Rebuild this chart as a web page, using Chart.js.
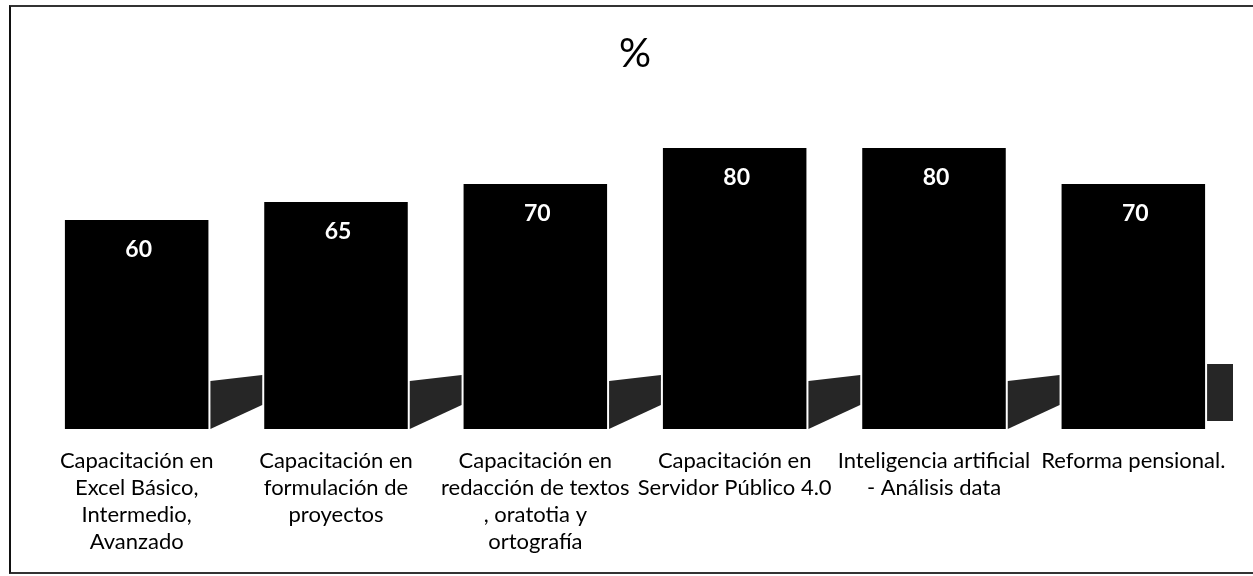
<!DOCTYPE html>
<html>
<head>
<meta charset="utf-8">
<script src="https://cdn.jsdelivr.net/npm/chart.js@4"></script>
<style>
  html, body { margin: 0; padding: 0; background: #fff; }
  #wrap { position: relative; width: 1253px; height: 576px; }
  #frame {
    position: absolute; left: 9px; top: 5px; width: 1260px; height: 565px;
    border-left: 2px solid #111; border-top: 2px solid #333; border-bottom: 2px solid #333;
    pointer-events: none;
  }
</style>
</head>
<body>
<div id="wrap">
  <canvas id="bars" width="1253" height="576"></canvas>
  <div id="frame"></div>
</div>
<script>
// categories (wrapped the way they appear under the bars)
const categories = [
  ['Capacitación en', 'Excel Básico,', 'Intermedio,', 'Avanzado'],
  ['Capacitación en', 'formulación de', 'proyectos'],
  ['Capacitación en', 'redacción de textos', ', oratotia y', 'ortografía'],
  ['Capacitación en', 'Servidor Público 4.0'],
  ['Inteligencia artificial', '- Análisis data'],
  ['Reforma pensional.']
]
const percentValues = [60, 65, 70, 80, 80, 70]

const FONT = 'Lato, "Open Sans", sans-serif'

// white value labels inside the top of each bar
const valueLabels = {
  id: 'valueLabels',
  afterDatasetsDraw(chart) {
    const ctx = chart.ctx
    const meta = chart.getDatasetMeta(0)
    ctx.save()
    ctx.fillStyle = '#fff'
    ctx.font = 'bold 23px ' + FONT
    ctx.textAlign = 'center'
    ctx.textBaseline = 'middle'
    meta.data.forEach((bar, i) => {
      ctx.fillText(String(percentValues[i]), bar.x + 2, bar.y + 30)
    })
    ctx.restore()
  }
}

// the dark "floor" shadows that sit to the right of each bar
const floorShadows = {
  id: 'floorShadows',
  beforeDatasetsDraw(chart) {
    const ctx = chart.ctx
    const meta = chart.getDatasetMeta(0)
    const bottom = chart.scales.y.getPixelForValue(chart.scales.y.min)
    ctx.save()
    ctx.fillStyle = '#262626'
    meta.data.forEach((bar, i) => {
      const x0 = bar.x + bar.width / 2 + 2
      const next = meta.data[i + 1]
      const last = !next
      const x1 = next ? next.x - next.width / 2 - 2 : Math.min(x0 + 27, chart.chartArea.right)
      ctx.beginPath()
      if (last) {
        ctx.rect(x0, bottom - 65, x1 - x0, 57)
      } else {
        ctx.moveTo(x0, bottom - 48)
        ctx.lineTo(x1, bottom - 54)
        ctx.lineTo(x1, bottom - 24)
        ctx.lineTo(x0, bottom)
        ctx.closePath()
      }
      ctx.fill()
    })
    ctx.restore()
  }
}

const barConfig = {
  type: 'bar',
  data: {
    labels: categories,
    datasets: [
      {
        label: '%',
        data: percentValues,
        backgroundColor: '#000',
        borderWidth: 0,
        barPercentage: 0.72,
        categoryPercentage: 1,
      },
    ],
  },
  options: {
    responsive: false,
    animation: false,
    layout: { padding: { left: 37, right: 20, top: 0, bottom: 0 } },
    plugins: {
      legend: { display: false },
      tooltip: { enabled: false },
      title: {
        display: true,
        text: '%',
        color: '#000',
        font: { family: FONT, size: 40, weight: 'normal', lineHeight: 1.2 },
        padding: { top: 30, bottom: 34 },
      },
    },
    scales: {
      x: {
        grid: { display: false, drawTicks: false },
        border: { display: false },
        ticks: {
          color: '#000',
          autoSkip: false,
          maxRotation: 0,
          padding: 18,
          font: { family: FONT, size: 22, lineHeight: 1.23 },
        },
        afterFit(scale) { scale.height = 147 },
      },
      y: {
        display: false,
        min: 2,
        max: 90,
      },
    },
  },
  plugins: [floorShadows, valueLabels],
}

const barCtx = document.getElementById('bars')
window.myBar = new Chart(barCtx, barConfig)
</script>
</body>
</html>
